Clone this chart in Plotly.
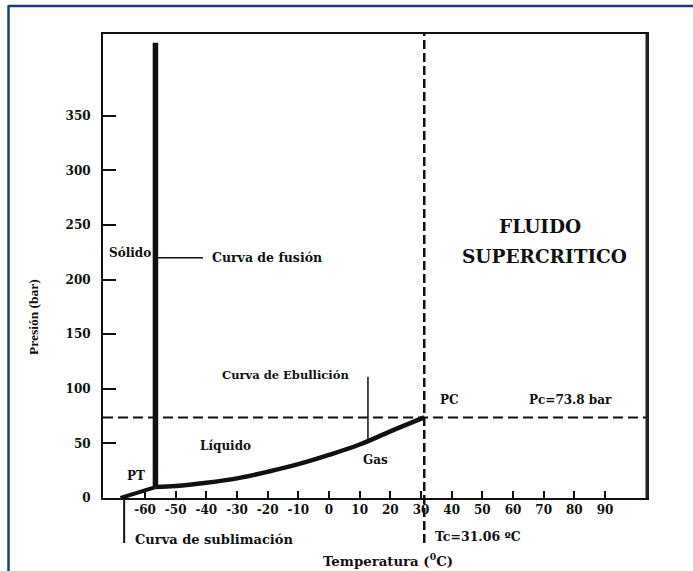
import plotly.graph_objects as go

# ---- data ----
temp_ticks = [-60, -50, -40, -30, -20, -10, 0, 10, 20, 30, 40, 50, 60, 70, 80, 90]
temp_tick_text = ["-60", "-50", "-40", "-30", "-20", "-10", "0", "10", "20", "30", "40", "50", "60", "70", "80", "90"]
pres_ticks = [0, 50, 100, 150, 200, 250, 300, 350]

triple_T, triple_P = -56.6, 10.0
crit_T, crit_P = 31.06, 73.8

sublimation_T = [-68.0, triple_T]
sublimation_P = [0.0, triple_P]

fusion_T = [triple_T, triple_T]
fusion_P = [triple_P, 417.0]

boiling_T = [-56.6, -50, -40, -30, -20, -10, 0, 10, 20, 31.06]
boiling_P = [10, 11, 14, 18, 24, 31, 39.5, 49, 61, 73.8]

FONT = "DejaVu Serif"
BLACK = "#111111"

fig = go.Figure()

fig.add_trace(go.Scatter(x=boiling_T, y=boiling_P, mode="lines",
                         line=dict(color=BLACK, width=4.5, shape="spline", smoothing=1.0),
                         hoverinfo="skip", showlegend=False))
fig.add_trace(go.Scatter(x=sublimation_T, y=sublimation_P, mode="lines",
                         line=dict(color=BLACK, width=4), hoverinfo="skip", showlegend=False))
fig.add_trace(go.Scatter(x=fusion_T, y=fusion_P, mode="lines",
                         line=dict(color=BLACK, width=5.5), hoverinfo="skip", showlegend=False))

shapes = []
# critical pressure dashed line
shapes.append(dict(type="line", xref="paper", yref="y", x0=0, x1=1, y0=crit_P, y1=crit_P,
                   line=dict(color=BLACK, width=2, dash="10px,5px")))
# critical temperature dashed line (extends below axis)
shapes.append(dict(type="line", xref="x", yref="paper", x0=crit_T, x1=crit_T, y0=-0.097, y1=1,
                   line=dict(color=BLACK, width=2.5, dash="9px,4px")))
# leader: curva de fusion
shapes.append(dict(type="line", xref="x", yref="y", x0=triple_T, x1=-41.1, y0=220, y1=220,
                   line=dict(color=BLACK, width=1.5)))
# leader: curva de ebullicion
shapes.append(dict(type="line", xref="x", yref="y", x0=12.7, x1=12.7, y0=111, y1=53,
                   line=dict(color=BLACK, width=1.5)))
# leader: curva de sublimacion
shapes.append(dict(type="line", xref="x", yref="paper", x0=-66.8, x1=-66.8, y0=0, y1=-0.097,
                   line=dict(color=BLACK, width=2)))
# blue frame (top and left)
shapes.append(dict(type="line", xref="paper", yref="paper", x0=-0.174, x1=1.1, y0=1.0603, y1=1.0603,
                   line=dict(color="#1f3c82", width=2.5)))
shapes.append(dict(type="line", xref="paper", yref="paper", x0=-0.1737, x1=-0.1737, y0=1.062, y1=-0.2,
                   line=dict(color="#1f3c82", width=2.5)))
# thicker right frame edge
shapes.append(dict(type="line", xref="paper", yref="paper", x0=1, x1=1, y0=0, y1=1,
                   line=dict(color="#222222", width=3)))

def txt(text, x, y, size=12, xanchor="center", xref="x", yref="y", angle=0, family=FONT):
    return dict(text=text, x=x, y=y, xref=xref, yref=yref, showarrow=False,
                xanchor=xanchor, yanchor="middle", textangle=angle,
                font=dict(family=family, size=size, color=BLACK, weight="bold"))

annotations = [
    txt("Sólido", -72.3, 224.5, size=12, xanchor="left"),
    txt("Curva de fusión", -38.8, 220, size=12.5, xanchor="left"),
    txt("Curva de Ebullición", -35.5, 112.7, size=11.5, xanchor="left"),
    txt("Líquido", -33.9, 47.6, size=12),
    txt("PT", -63.1, 20, size=12),
    txt("Gas", 15.3, 34.8, size=12),
    txt("PC", 39.4, 89.8, size=12),
    txt("Pc=73.8 bar", 78.6, 89.8, size=12),
    txt("FLUIDO", 68.8, 248.3, size=18.5),
    txt("SUPERCRITICO", 70.4, 220.8, size=18.5),
    txt("Curva de sublimación", -63.9, -0.0905, size=13, xanchor="left", yref="paper"),
    txt("Tc=31.06 ºC", 33.9, -0.084, size=12.5, xanchor="left", yref="paper"),
    txt("Temperatura (<sup>0</sup>C)", 19.2, -0.134, size=13.3, yref="paper"),
    txt("Presión (bar)", -0.1287, 0.39, size=13.5, xref="paper", yref="paper", angle=-90,
        family="Liberation Serif"),
]

fig.update_layout(
    width=693, height=571,
    margin=dict(l=103, r=46, t=34, b=73),
    paper_bgcolor="white", plot_bgcolor="white",
    shapes=shapes, annotations=annotations,
    showlegend=False,
    xaxis=dict(range=[-73.7, 103.7], showgrid=False, zeroline=False,
               showline=True, linecolor=BLACK, linewidth=2, mirror=True,
               tickmode="array", tickvals=temp_ticks, ticktext=temp_tick_text,
               ticks="inside", ticklen=7, tickwidth=2, tickcolor=BLACK,
               tickfont=dict(family=FONT, size=12, color=BLACK, weight="bold")),
    yaxis=dict(range=[0, 425], showgrid=False, zeroline=False,
               showline=True, linecolor=BLACK, linewidth=2, mirror=True,
               tickmode="array", tickvals=pres_ticks,
               ticks="inside", ticklen=13, tickwidth=2, tickcolor=BLACK,
               ticklabelstandoff=8,
               tickfont=dict(family=FONT, size=12, color=BLACK, weight="bold")),
)

fig.write_html("out.html")
